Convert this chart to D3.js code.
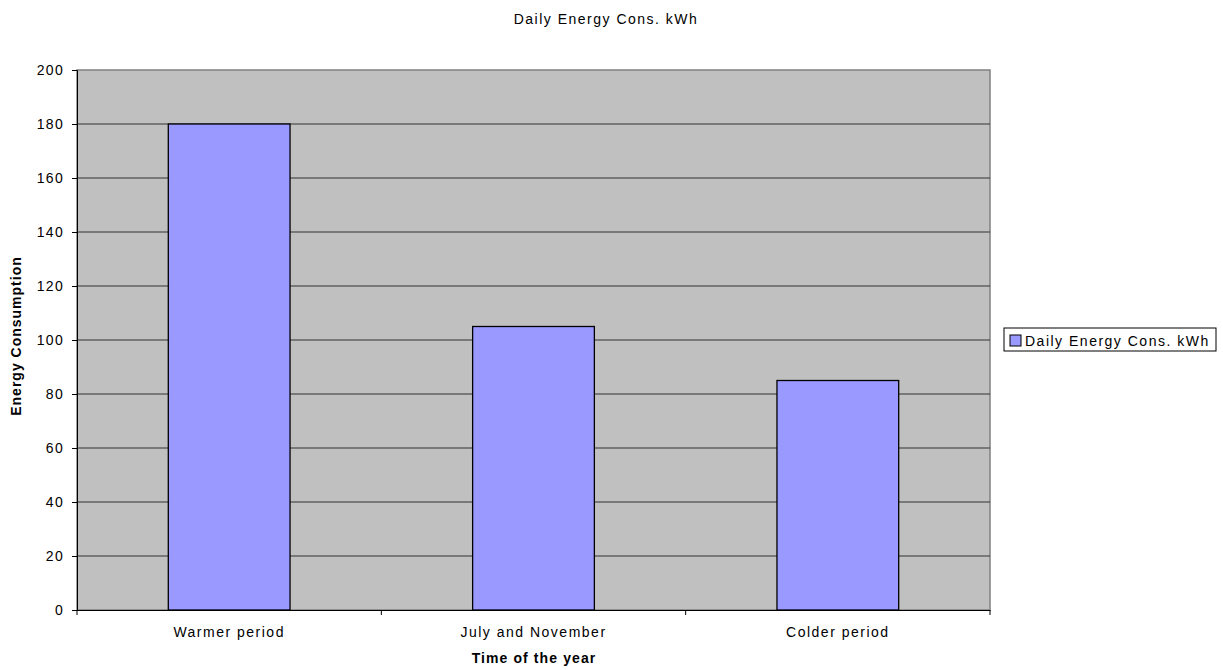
<!DOCTYPE html>
<html><head><meta charset="utf-8">
<script src="https://cdn.jsdelivr.net/npm/d3@7"></script>
<style>body{margin:0;background:#fff;} text{font-family:Arial,"Liberation Sans",sans-serif;}</style>
</head><body>
<svg id="c" width="1223" height="670"></svg>
<script>
const categories = ["Warmer period", "July and November", "Colder period"];
const values = [180, 105, 85];
const yTicks = [0, 20, 40, 60, 80, 100, 120, 140, 160, 180, 200];
const seriesName = "Daily Energy Cons. kWh";

const svg = d3.select("#c");
const L = 77, R = 990, T = 70, B = 610;
const x = d3.scaleBand().domain(categories).range([L, R]).paddingInner(0).paddingOuter(0);
const y = d3.scaleLinear().domain([0, 200]).range([B, T]);

svg.append("rect").attr("x", L).attr("y", T).attr("width", R - L).attr("height", B - T)
  .attr("fill", "#c0c0c0").attr("stroke", "#808080").attr("stroke-width", 1.5);

// gridlines
svg.append("g").selectAll("line").data(yTicks.filter(d => d > 0 && d < 200)).join("line")
  .attr("x1", L).attr("x2", R).attr("y1", d => y(d)).attr("y2", d => y(d))
  .attr("stroke", "#333").attr("stroke-width", 1);

// bars
const bw = x.bandwidth() * 0.4;
svg.append("g").selectAll("rect").data(values).join("rect")
  .attr("x", (d, i) => x(categories[i]) + x.bandwidth() / 2 - bw / 2)
  .attr("y", d => y(d)).attr("width", bw).attr("height", d => B - y(d))
  .attr("fill", "#9999ff").attr("stroke", "#000").attr("stroke-width", 1.3);

// y axis
const ya = svg.append("g").attr("transform", `translate(${L},0)`)
  .call(d3.axisLeft(y).tickValues(yTicks).tickSize(5).tickPadding(8));
ya.select(".domain").attr("stroke", "#000");
ya.selectAll(".tick line").attr("stroke", "#000");
ya.selectAll("text").attr("font-size", 14).attr("letter-spacing", 1.3).attr("fill", "#000")
  .style("font-family", "Arial, 'Liberation Sans', sans-serif");

// x axis
const xa = svg.append("g").attr("transform", `translate(0,${B})`)
  .call(d3.axisBottom(x).tickSize(0).tickPadding(17));
xa.select(".domain").attr("stroke", "#000");
xa.selectAll("text").attr("font-size", 14).attr("fill", "#000").attr("letter-spacing", 1.5)
  .style("font-family", "Arial, 'Liberation Sans', sans-serif");
const bounds = [L, ...categories.map(c => x(c) + x.bandwidth())];
svg.append("g").selectAll("line").data(bounds).join("line")
  .attr("x1", d => d).attr("x2", d => d).attr("y1", B).attr("y2", B + 5)
  .attr("stroke", "#000");

// titles
svg.append("text").attr("x", 606).attr("y", 24).attr("text-anchor", "middle")
  .attr("font-size", 14).attr("letter-spacing", 1.5).text(seriesName);
svg.append("text").attr("x", 534).attr("y", 663).attr("text-anchor", "middle")
  .attr("font-size", 14).attr("font-weight", "bold").attr("letter-spacing", 1.1).text("Time of the year");
svg.append("text").attr("transform", `translate(21,336) rotate(-90)`).attr("text-anchor", "middle")
  .attr("font-size", 14).attr("font-weight", "bold").attr("letter-spacing", 1).text("Energy Consumption");

// legend
const lg = svg.append("g");
lg.append("rect").attr("x", 1004).attr("y", 328).attr("width", 212).attr("height", 23)
  .attr("fill", "#fff").attr("stroke", "#000").attr("stroke-width", 1);
lg.append("rect").attr("x", 1010).attr("y", 335).attr("width", 11).attr("height", 11)
  .attr("fill", "#9999ff").attr("stroke", "#000").attr("stroke-width", 1);
lg.append("text").attr("x", 1025).attr("y", 346).attr("font-size", 14).attr("letter-spacing", 1.5).text(seriesName);
</script>
</body></html>
